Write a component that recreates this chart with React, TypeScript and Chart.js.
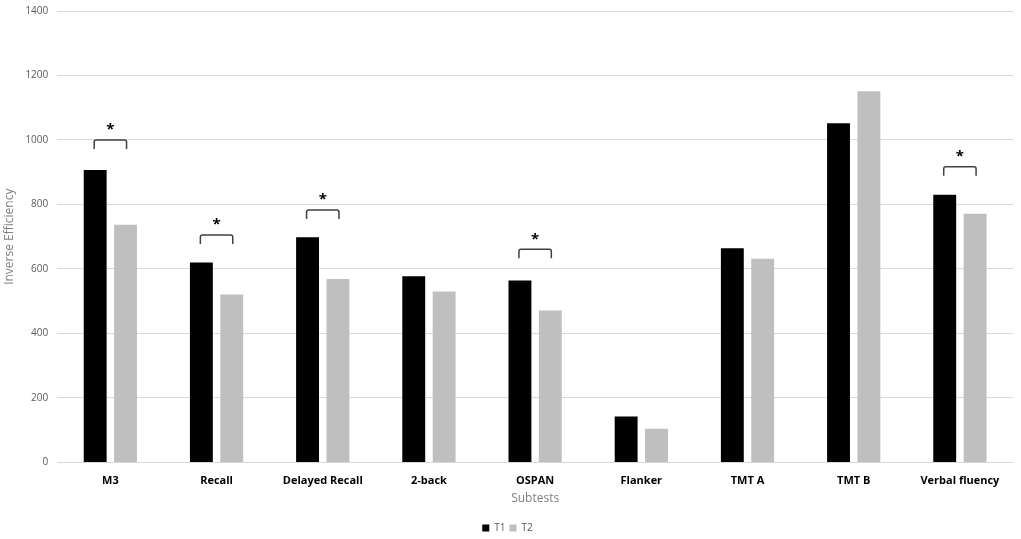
import React, { useEffect, useRef } from "react";
import { Chart, registerables } from "chart.js";

Chart.register(...registerables);

const categories = ["M3", "Recall", "Delayed Recall", "2-back", "OSPAN", "Flanker", "TMT A", "TMT B", "Verbal fluency"];
const t1Values = [907, 620, 698, 577, 564, 142, 664, 1052, 830];
const t2Values = [737, 521, 569, 530, 471, 104, 632, 1151, 771];
const bracketValues = [1000, 705, 783, 0, 661, 0, 0, 0, 917];
const significant = [true, true, true, false, true, false, false, false, true];
const yTicks = [0, 200, 400, 600, 800, 1000, 1200, 1400];

const FONT = "'Open Sans', 'Liberation Sans', sans-serif";

const bracketPlugin = {
  id: "brackets",
  afterDatasetsDraw(chart: any) {
    const ctx = chart.ctx;
    const y = chart.scales.y;
    const m1 = chart.getDatasetMeta(0);
    const m2 = chart.getDatasetMeta(1);
    ctx.save();
    significant.forEach((sig, i) => {
      if (!sig) return;
      const x1 = m1.data[i].x - 1;
      const x2 = m2.data[i].x + 1;
      const yy = y.getPixelForValue(bracketValues[i]);
      const leg = 9;
      const r = 2;
      ctx.strokeStyle = "#404040";
      ctx.lineWidth = 1.5;
      ctx.beginPath();
      ctx.moveTo(x1, yy + leg);
      ctx.lineTo(x1, yy + r);
      ctx.quadraticCurveTo(x1, yy, x1 + r, yy);
      ctx.lineTo(x2 - r, yy);
      ctx.quadraticCurveTo(x2, yy, x2, yy + r);
      ctx.lineTo(x2, yy + leg);
      ctx.stroke();
      ctx.fillStyle = "#000";
      ctx.font = `bold 15px ${FONT}`;
      ctx.textAlign = "center";
      ctx.textBaseline = "middle";
      ctx.fillText("*", (x1 + x2) / 2, yy - 10);
    });
    ctx.restore();
  },
};

export default function App() {
  const ref = useRef<HTMLCanvasElement | null>(null);
  useEffect(() => {
    if (!ref.current) return;
    const chart = new Chart(ref.current, {
      type: "bar",
      data: {
        labels: categories,
        datasets: [
          {
            label: "T1",
            data: t1Values,
            backgroundColor: "#000000",
            categoryPercentage: 0.572,
            barPercentage: 0.754,
          },
          {
            label: "T2",
            data: t2Values,
            backgroundColor: "#bfbfbf",
            categoryPercentage: 0.572,
            barPercentage: 0.754,
          },
        ],
      },
      options: {
        responsive: true,
        maintainAspectRatio: false,
        animation: false,
        layout: { padding: { top: 0, right: 8, left: 2, bottom: -4 } },
        plugins: {
          tooltip: { enabled: false },
          legend: {
            position: "bottom",
            labels: {
              boxWidth: 7,
              boxHeight: 7,
              color: "#595959",
              font: { family: FONT, size: 10 },
              padding: 4,
            },
          },
        },
        scales: {
          x: {
            grid: { display: false },
            border: { display: true, color: "#d9d9d9", width: 1 },
            ticks: {
              color: "#000",
              font: { family: FONT, size: 11, weight: "bold" },
              padding: 4,
            },
            title: {
              display: true,
              text: "Subtests",
              color: "#7f7f7f",
              font: { family: FONT, size: 12 },
              padding: { top: 0, bottom: 13 },
            },
          },
          y: {
            min: 0,
            max: 1400,
            afterBuildTicks: (axis: any) => {
              axis.ticks = yTicks.map((v) => ({ value: v }));
            },
            grid: { color: "#d9d9d9", lineWidth: 1, drawTicks: false },
            border: { display: false },
            ticks: {
              color: "#595959",
              font: { family: FONT, size: 10 },
              padding: 9,
              callback: (v: any) => String(v),
            },
            title: {
              display: true,
              text: "Inverse Efficiency",
              color: "#7f7f7f",
              font: { family: FONT, size: 12 },
              padding: { top: 0, bottom: 0 },
            },
          },
        },
      },
      plugins: [bracketPlugin],
    });
    return () => chart.destroy();
  }, []);
  return (
    <div style={{ position: "absolute", left: 0, top: -4, width: 1021, height: 543, background: "#fff" }}>
      <canvas ref={ref} />
    </div>
  );
}
